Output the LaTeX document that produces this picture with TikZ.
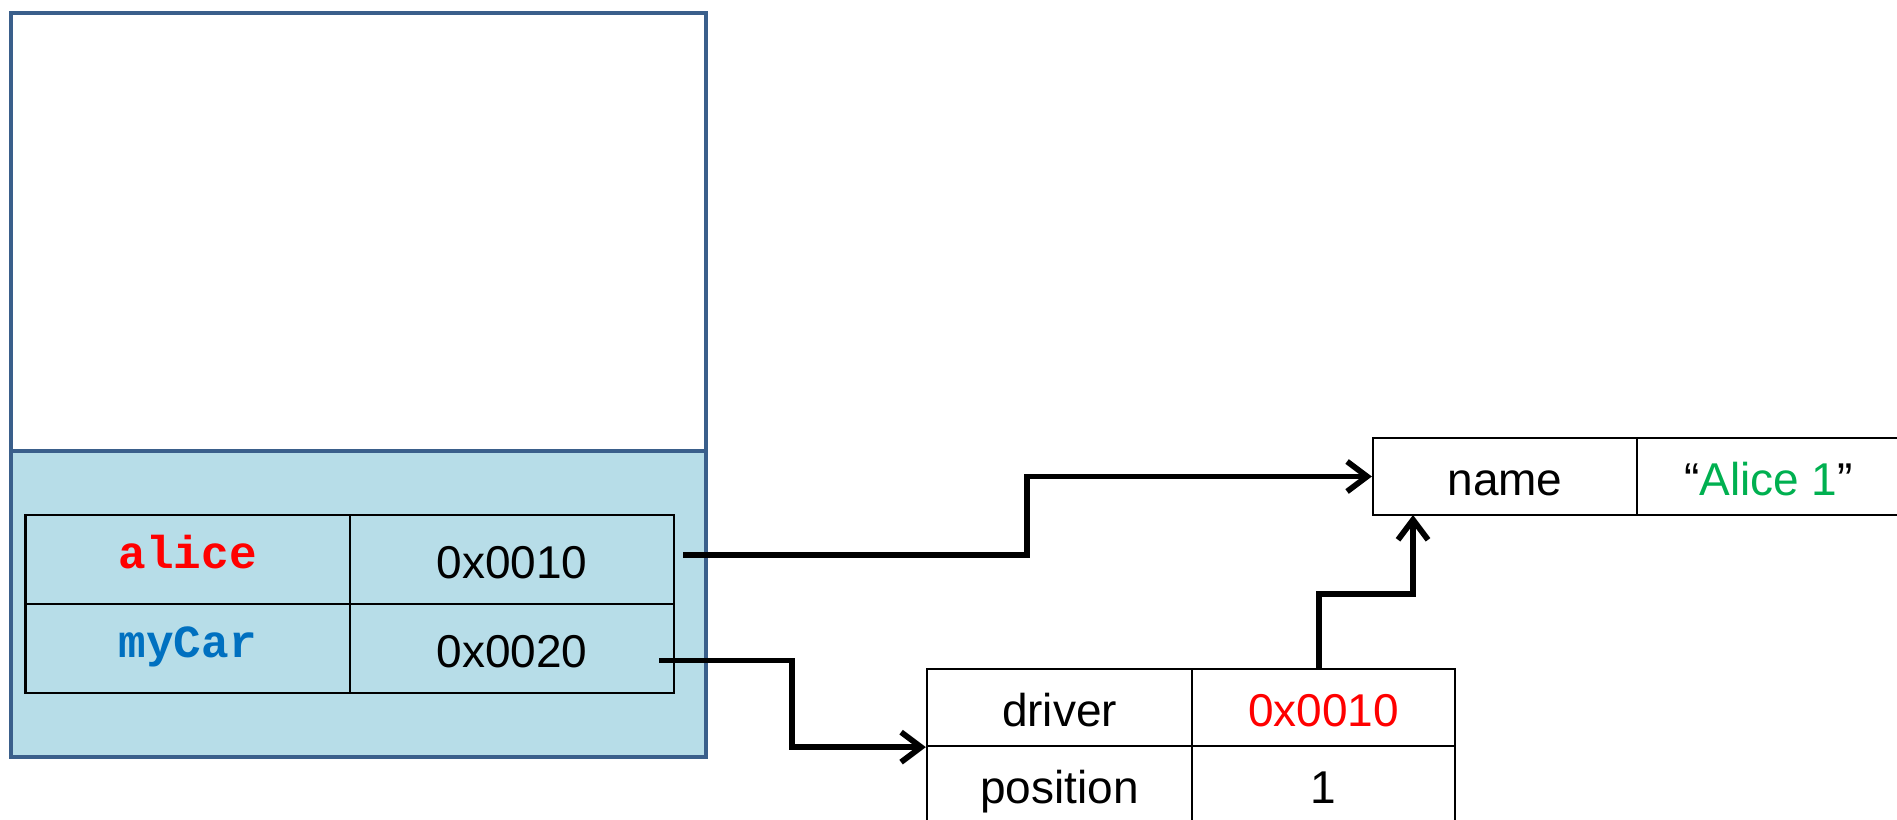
\documentclass[tikz,border=0pt]{standalone}
\usepackage{fontspec}
\setmainfont{Liberation Sans}
\newfontfamily\codefont{Liberation Mono}
\usetikzlibrary{arrows.meta}
\definecolor{frameblue}{HTML}{3A5F8B}
\definecolor{stackfill}{HTML}{B7DDE8}
\definecolor{varred}{HTML}{FF0000}
\definecolor{varblue}{HTML}{0070C0}
\definecolor{strgreen}{HTML}{00B050}
\begin{document}
\begin{tikzpicture}[x=0.4pt,y=-0.4pt,
  font=\fontsize{18.4}{22}\selectfont,
  frame/.style={draw=frameblue,line width=1.7pt,inner sep=0pt,anchor=north west},
  cell/.style={draw=black,line width=0.9pt,inner sep=0pt,text height=14.8pt,text depth=0pt,
    minimum height=35.6pt,minimum width=129.7pt},
  objcell/.style={draw=black,line width=0.9pt,inner sep=0pt,text height=14.8pt,text depth=0pt,
    minimum height=30.8pt,minimum width=105.6pt},
  code/.style={font=\fontsize{18.4}{22}\selectfont\codefont\bfseries,text height=6.8pt},
  ptr/.style={draw=black,line width=2.3pt,-{Straight Barb[length=8pt,width=12pt,line width=2.3pt]}}]
\useasboundingbox (0,0) rectangle (1897,819);
\clip (0,0) rectangle (1897,819);

% memory frame: free area above, stack frame below
\node[frame,fill=white,minimum width=278.2pt,minimum height=175.2pt] (heap) at (8.5,11) {};
\node[frame,fill=stackfill,minimum width=278.2pt,minimum height=122.4pt] (stack) at (8.5,449) {};

% local variables
\node[cell,code,text=varred] (alice) at (187.7,559.5) {alice};
\node[cell] (aliceval) at (512,559.5) {0x0010};
\node[cell,code,text=varblue] (mycar) at (187.7,648.5) {myCar};
\node[cell] (mycarval) at (512,648.5) {0x0020};

% person object
\node[objcell] (namecell) at (1505,476.5) {name};
\node[objcell,minimum width=105.2pt] (nameval) at (1768.5,476.5) {“\textcolor{strgreen}{Alice 1}”};

% car object
\node[objcell,minimum width=106pt] (driver) at (1059.5,707.5) {driver};
\node[objcell,minimum width=105.2pt,text=varred] (driverval) at (1323.5,707.5) {0x0010};
\node[objcell,minimum width=106pt] (position) at (1059.5,784.5) {position};
\node[objcell,minimum width=105.2pt] (posval) at (1323.5,784.5) {1};

% pointer routes
\coordinate (s1) at (683,555);
\coordinate (k1) at (1027,0);
\coordinate (s2) at (659,660.5);
\coordinate (k2) at (792,0);
\coordinate (s3) at (1319,669);
\coordinate (k3) at (1413,594);
\coordinate (t3) at (1413,515);

\draw[ptr] (s1) -| (k1 |- namecell.west) -- (namecell.west);
\draw[ptr] (s2) -| (k2 |- driver.south west) -- (driver.south west);
\draw[ptr] (s3) |- (k3) -- (t3);
\end{tikzpicture}
\end{document}
